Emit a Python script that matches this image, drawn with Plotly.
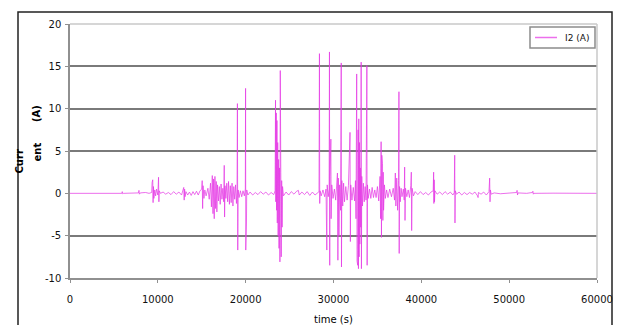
import plotly.graph_objects as go

# ---- data: (time s, I2 A) segments ----
quiet_start = [(0, 0), (3000, 0.02), (5900, 0), (5950, 0.2), (6000, -0.05), (6100, 0),
               (7800, 0.05), (7850, 0.35), (7900, -0.1), (8000, 0.05), (8600, 0.1), (9000, 0)]
burst_10k = [(9300, 0.1), (9350, 1.3), (9380, -0.9), (9420, 1.6), (9460, -1.1), (9500, 0.8),
             (9550, -0.6), (9650, 0.4), (9750, -0.3), (9850, 0.5), (10000, -0.2), (10080, 1.9),
             (10120, -1.0), (10160, 0.3), (10300, 0)]
noise_12k = [(10600, 0.15), (10900, -0.1), (11200, 0.1), (11500, -0.15), (11800, 0.2), (12100, -0.1),
             (12400, 0.15), (12700, -0.2), (12900, 0.4), (12950, 0.7), (13000, -0.8), (13050, 0.5),
             (13100, -0.4), (13200, 0.2), (13400, -0.2), (13600, 0.15), (13800, -0.25), (14000, 0.2),
             (14200, -0.15), (14400, 0.25), (14600, -0.2), (14800, 0.3)]
burst_17k = [(15000, 0.5), (15050, 1.5), (15100, -1.8), (15150, 0.9), (15250, -0.6), (15350, 0.4),
             (15500, -0.3), (15700, 0.6), (15850, -0.7), (16000, 1.2), (16100, -1.6), (16200, 2.1),
             (16280, -2.4), (16350, 1.7), (16420, -3.0), (16500, 2.0), (16580, -1.8), (16650, 1.4),
             (16720, -2.2), (16800, 1.0), (16900, -0.9), (17000, 0.8), (17100, -1.3), (17200, 1.1),
             (17300, -0.7), (17400, 0.6), (17500, -1.0), (17560, 3.3), (17600, -2.8), (17650, 0.9),
             (17750, -0.6), (17850, 1.2), (17950, -1.0), (18050, 1.4), (18150, -1.3), (18250, 0.9),
             (18350, -1.1), (18450, 1.2), (18550, -1.5), (18650, 0.8), (18750, -0.7), (18850, 1.0),
             (18950, -1.2)]
spikes_20k = [(19020, 0.5), (19060, 10.6), (19100, -6.7), (19140, 0.4), (19250, -0.5), (19400, 0.3),
              (19550, -0.4), (19700, 0.3), (19850, -0.3), (19960, 0.5), (19990, 12.4), (20010, -6.7),
              (20030, 11.8), (20050, -6.0), (20070, 9.0), (20090, -3.5), (20120, 0.4), (20250, -0.2)]
quiet_22k = [(20500, 0.15), (20800, -0.2), (21100, 0.1), (21400, -0.15), (21700, 0.2), (22000, -0.1),
             (22300, 0.15), (22600, -0.2), (22900, 0.1), (23200, -0.15)]
spikes_24k = [(23350, 0.3), (23400, 11.0), (23430, -1.0), (23480, 9.5), (23520, -2.0), (23560, 8.6),
              (23600, -3.5), (23650, 6.0), (23700, -5.0), (23750, 4.0), (23800, -6.5), (23850, 3.0),
              (23900, -8.1), (23940, 14.5), (23970, -8.0), (24000, 2.5), (24050, -7.5), (24100, 1.5),
              (24150, -4.0), (24200, 0.8), (24300, -0.3)]
quiet_26k = [(24600, 0.15), (24900, -0.2), (25200, 0.2), (25500, -0.1), (25800, 0.25), (26000, 0.35),
             (26100, -0.2), (26400, 0.15), (26700, -0.15), (27000, 0.2), (27300, -0.25), (27600, 0.15),
             (27900, -0.2), (28200, 0.1)]
spikes_31k = [(28350, 0.2), (28400, 16.5), (28430, -1.2), (28470, 0.3), (28600, -0.3), (28800, 0.4),
              (29000, -0.4), (29150, 0.5), (29240, -6.7), (29280, 1.0), (29400, -0.4), (29500, 0.5),
              (29540, 16.7), (29570, -8.5), (29600, 2.0), (29700, 6.4), (29730, -3.0), (29800, 1.0),
              (29950, -0.6), (30100, 0.5), (30250, -0.8), (30400, 1.2), (30450, 2.4), (30500, -7.9),
              (30550, 1.8), (30620, -5.0), (30700, 1.0), (30800, -2.0), (30880, 15.4), (30910, -8.7),
              (30950, 1.5), (31050, -1.5), (31150, 1.2), (31250, -1.0), (31400, 0.8), (31550, -0.8),
              (31700, 0.9), (31880, 7.2), (31920, -5.7), (31960, 1.0), (32100, -0.8), (32250, 0.7),
              (32400, -0.9), (32500, 1.5), (32560, -3.0), (32640, 14.1), (32680, -8.0), (32720, 5.5),
              (32760, -8.5), (32800, 7.5), (32840, -8.9), (32880, 8.8), (32920, -7.5), (32960, 6.0),
              (33000, -6.0), (33050, 3.0), (33100, -4.0), (33150, 15.5), (33180, -8.9), (33220, 2.0),
              (33300, -1.5), (33400, 1.2), (33500, -1.0), (33600, 0.8), (33700, -0.8), (33800, 15.1),
              (33830, -8.5), (33870, 1.0), (33950, -0.6)]
spikes_37k = [(34100, 0.5), (34250, -0.6), (34400, 0.7), (34550, -0.5), (34700, 0.4), (34850, -0.5),
              (35000, 0.8), (35150, -0.9), (35300, 2.0), (35360, -3.0), (35420, 6.1), (35460, -5.2),
              (35500, 4.5), (35540, -4.0), (35580, 3.5), (35620, -3.2), (35660, 2.5), (35700, -2.0),
              (35800, 1.0), (35900, -0.6), (36050, 0.4), (36200, -0.5), (36400, 0.5), (36600, -0.4),
              (36800, 0.6), (36950, -0.8), (37040, 2.4), (37100, -1.5), (37200, 1.8), (37300, -2.0),
              (37400, 1.5), (37450, 12.0), (37480, -7.1), (37520, 0.8), (37600, -1.0), (37700, 0.6),
              (37800, -0.4), (37950, 0.5), (38050, -0.8), (38100, 3.1), (38140, -3.2), (38200, 0.6),
              (38350, -0.4), (38500, 0.4), (38650, -0.5), (38800, 0.9), (38860, 2.5), (38900, -4.4),
              (38950, 0.6), (39100, -0.3), (39300, 0.2)]
tail_44k = [(39600, -0.15), (39900, 0.2), (40200, -0.15), (40500, 0.1), (40800, -0.2), (41100, 0.15),
            (41350, 0.3), (41400, 2.5), (41430, -1.2), (41460, 1.6), (41500, -1.0), (41550, 0.3),
            (41800, -0.1), (42100, 0.15), (42400, -0.15), (42700, 0.2), (43000, -0.1), (43300, 0.15),
            (43600, -0.2), (43750, 0.1), (43800, 4.5), (43830, -3.5), (43870, 0.3), (44000, -0.1),
            (44300, 0.15), (44600, -0.2), (44900, 0.1), (45200, -0.15), (45500, 0.1), (45800, -0.1),
            (46100, 0.15), (46400, -0.3), (46460, -0.5), (46500, 0.1), (46800, -0.1), (47100, 0.15),
            (47400, -0.2), (47700, 0.2), (47780, 1.8), (47820, -1.0), (47860, 0.4), (47950, -0.1)]
quiet_end = [(48300, 0.05), (49000, -0.05), (50000, 0.05), (50850, 0.1), (50900, 0.35), (50950, -0.2),
             (51000, 0.05), (52000, 0), (52650, 0.1), (52700, 0.25), (52750, -0.1), (52800, 0),
             (55000, 0.02), (60000, 0)]

y_ticks = [-10, -5, 0, 5, 10, 15, 20]
x_ticks = [0, 10000, 20000, 30000, 40000, 50000, 60000]
series_name = "I2 (A)"

segments = [quiet_start, burst_10k, noise_12k, burst_17k, spikes_20k, quiet_22k, spikes_24k,
            quiet_26k, spikes_31k, spikes_37k, tail_44k, quiet_end]
points = [p for seg in segments for p in seg]
time_s = [p[0] for p in points]
i2_a = [p[1] for p in points]

FONT = "DejaVu Sans, Verdana, sans-serif"
LINE_COLOR = "rgba(228,55,228,0.72)"

fig = go.Figure()
fig.add_trace(go.Scatter(x=time_s, y=i2_a, mode="lines", name=series_name, showlegend=False,
                         line=dict(color=LINE_COLOR, width=1)))

L, R, T, B = 70, 24, 24, 47
W, H = 621, 325
pw, ph = W - L - R, H - T - B

def px(x):
    return (x - L) / pw

def py(y):
    return (H - B - y) / ph

fig.update_layout(
    width=W, height=H,
    margin=dict(l=L, r=R, t=T, b=B, pad=0, autoexpand=False),
    paper_bgcolor="white", plot_bgcolor="white",
    font=dict(family=FONT, size=10, color="black"),
    showlegend=False,
    xaxis=dict(range=[0, 60000], tickvals=x_ticks, ticktext=[str(v) for v in x_ticks],
               automargin=False,
               showgrid=False, zeroline=False, showline=True, linecolor="#909090", linewidth=1.5,
               ticks="outside", ticklen=3, tickcolor="#909090", tickwidth=1,
               ticklabelstandoff=8,
               tickfont=dict(family=FONT, size=10, color="#111111"),
               title=dict(text="time (s)", font=dict(family=FONT, size=10, color="black"), standoff=14)),
    yaxis=dict(range=[-10, 20], tickvals=y_ticks, ticktext=[str(v) for v in y_ticks],
               automargin=False,
               showgrid=True, gridcolor="#7a7a7a", gridwidth=1.5,
               zeroline=True, zerolinecolor="rgba(0,0,0,0)",
               showline=True, linecolor="#909090", linewidth=1.5,
               ticks="outside", ticklen=3, tickcolor="#909090", tickwidth=1,
               ticklabelstandoff=2,
               tickfont=dict(family=FONT, size=10, color="#111111")),
    shapes=[
        dict(type="line", xref="paper", yref="paper", x0=0, x1=1, y0=1, y1=1,
             line=dict(color="#c8c8c8", width=1.5), layer="above"),
        dict(type="line", xref="paper", yref="paper", x0=1, x1=1, y0=0, y1=1,
             line=dict(color="#c8c8c8", width=1.5), layer="above"),
        dict(type="rect", xref="paper", yref="paper", x0=px(18), x1=px(612), y0=py(340), y1=py(12),
             line=dict(color="#222222", width=1.5), fillcolor="rgba(0,0,0,0)", layer="below"),
        # legend box and sample line
        dict(type="rect", xref="paper", yref="paper", x0=px(530), x1=px(595), y0=py(48), y1=py(27),
             line=dict(color="#8c8c8c", width=1.5), fillcolor="white", layer="above"),
        dict(type="line", xref="paper", yref="paper", x0=px(535), x1=px(557), y0=py(37.5), y1=py(37.5),
             line=dict(color=LINE_COLOR, width=1.5), layer="above"),
    ],
    annotations=[
        dict(text=series_name, x=px(563), y=py(37.5), xref="paper", yref="paper",
             xanchor="left", yanchor="middle", showarrow=False,
             font=dict(family=FONT, size=9, color="#111111")),
        dict(text="<b>Curr</b>", x=px(12), y=py(162), xref="paper", yref="paper", textangle=-90,
             showarrow=False, font=dict(family=FONT, size=10, color="black")),
        dict(text="<b>ent</b>", x=px(29), y=py(152), xref="paper", yref="paper", textangle=-90,
             showarrow=False, font=dict(family=FONT, size=10, color="black")),
        dict(text="<b>(A)</b>", x=px(29), y=py(103), xref="paper", yref="paper", textangle=-90,
             showarrow=False, font=dict(family=FONT, size=10, color="black")),
    ],
)

fig.write_html("out.html", config={"displayModeBar": False},
               post_script="document.body.style.margin='0';document.body.style.overflow='hidden';")
